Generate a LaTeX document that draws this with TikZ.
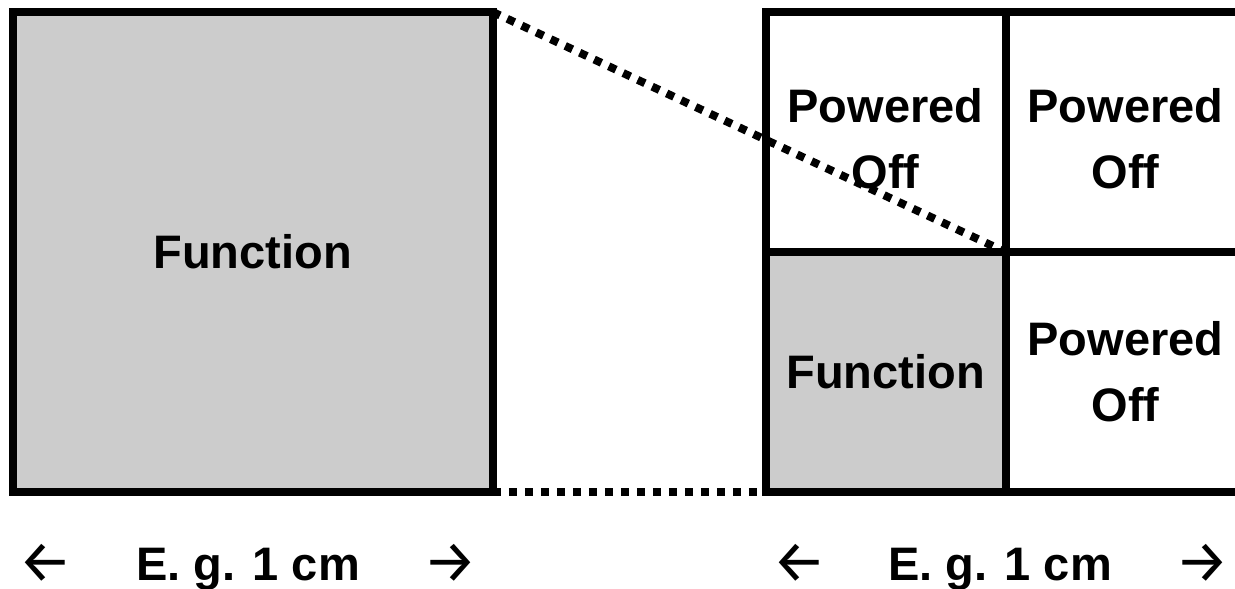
\documentclass[tikz,border=0pt]{standalone}
\usepackage{fontspec}
\setmainfont{Liberation Sans}
\newfontfamily\arrowfont{Fira Sans}
\definecolor{cellgray}{RGB}{204,204,204}
\begin{document}
\begin{tikzpicture}[x=1pt,y=-1pt,
  labeltext/.style={inner sep=0pt, outer sep=0pt, align=center,
    font=\bfseries\fontsize{47}{66}\selectfont},
  box/.style={labeltext, draw=black, line width=8pt, minimum width=#1, minimum height=#1},
  dotline/.style={line width=8pt, dash pattern=on 8pt off 8pt},
  dimtext/.style={anchor=base, inner sep=0pt, font=\bfseries\fontsize{47}{56}\selectfont},
  dimarrow/.style={inner sep=0pt, font=\arrowfont\fontsize{60}{66}\selectfont}]
\clip (0,0) rectangle (1235,589);

% full-size block
\node[box=480, fill=cellgray] (big) at (252.75,252) {Function};

% the same area split into four quarters
\node[box=240] (tl) at (885.5,132) {};
\node[box=240] (tr) at (1125.5,132) {};
\node[box=240, fill=cellgray] (bl) at (885.5,372) {Function};
\node[box=240] (br) at (1125.5,372) {Powered\\Off};
\node[labeltext] (tl-text) at ([yshift=-7pt]tl.center) {Powered\\Off};
\node[labeltext] (tr-text) at ([yshift=-7pt]tr.center) {Powered\\Off};

% projection lines
\draw[dotline] (big.north east) -- (tl.south east);
\draw[dotline] (big.south east) -- (bl.south west);

% size annotations
\node[dimarrow] (la1) at (46,563) {←};
\node[dimtext] (lt) at (248,580) {E. g. 1 cm};
\node[dimarrow] (ra1) at (450,563) {→};
\node[dimarrow] (la2) at (799,563) {←};
\node[dimtext] (rt) at (1000,580) {E. g. 1 cm};
\node[dimarrow] (ra2) at (1202,563) {→};
\end{tikzpicture}
\end{document}
